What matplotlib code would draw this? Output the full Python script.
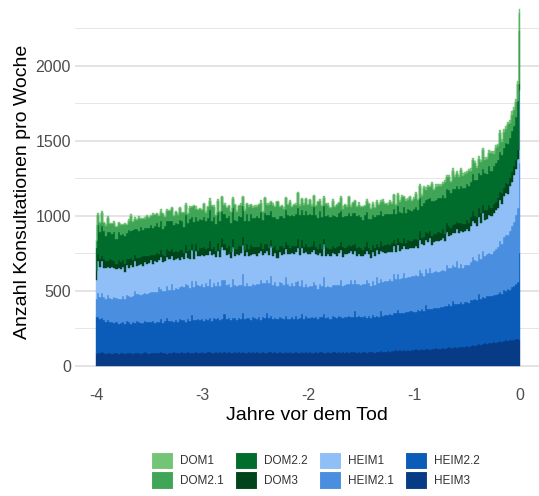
import numpy as np
import matplotlib.pyplot as plt
from matplotlib.patches import Patch

plt.rcParams['font.family'] = ['Liberation Sans', 'DejaVu Sans']

# weekly values, 13 weeks (one quarter) per row, 4 years before death + last week
HEIM3 = [80, 88, 84, 90, 86, 82, 87, 85, 80, 83, 86, 81, 84,
         88, 82, 85, 87, 83, 80, 86, 84, 89, 82, 86, 90, 84,
         81, 87, 85, 88, 83, 86, 91, 84, 87, 82, 88, 85, 90,
         86, 83, 88, 92, 85, 87, 90, 84, 89, 86, 93, 88, 85,
         91, 87, 84, 90, 95, 86, 89, 92, 87, 90, 85, 93, 88,
         91, 86, 89, 94, 87, 90, 85, 92, 88, 86, 91, 89, 93,
         87, 90, 88, 85, 92, 89, 86, 94, 90, 87, 91, 88, 93,
         86, 89, 92, 87, 90, 88, 85, 91, 89, 86, 90, 88, 93,
         87, 91, 89, 86, 92, 88, 90, 94, 87, 89, 91, 86, 93,
         90, 88, 92, 89, 94, 88, 91, 87, 93, 90, 95, 89, 92,
         88, 96, 91, 89, 94, 90, 93, 88, 95, 92, 97, 93, 96,
         99, 95, 101, 97, 103, 99, 105, 100, 104, 98, 106, 102, 108,
         104, 110, 106, 108, 113, 107, 111, 115, 109, 114, 112, 117, 113,
         116, 120, 114, 119, 123, 118, 122, 126, 121, 125, 129, 124, 128,
         131, 127, 134, 138, 133, 140, 145, 141, 148, 152, 147, 155, 151,
         158, 154, 162, 166, 160, 168, 172, 165, 170, 174, 176, 178, 180,
         175]

HEIM22 = [245, 238, 226, 232, 218, 214, 221, 206, 212, 203, 209, 200, 205,
          208, 199, 212, 204, 196, 210, 203, 215, 201, 207, 198, 212, 206,
          210, 204, 216, 200, 213, 207, 221, 205, 211, 240, 209, 214, 206,
          218, 211, 224, 213, 220, 208, 226, 216, 250, 219, 212, 227, 221,
          222, 215, 230, 218, 225, 212, 228, 221, 234, 217, 226, 255, 223,
          229, 220, 233, 224, 218, 231, 226, 260, 222, 235, 227, 219, 232,
          230, 224, 237, 221, 233, 228, 265, 226, 240, 225, 231, 222, 236,
          231, 226, 238, 229, 223, 235, 230, 242, 227, 234, 258, 228, 237,
          233, 227, 240, 231, 236, 225, 239, 232, 262, 230, 238, 229, 242,
          236, 230, 243, 234, 228, 240, 235, 247, 232, 239, 270, 237, 244,
          235, 229, 242, 233, 238, 230, 245, 236, 241, 237, 268, 240, 246,
          243, 250, 241, 253, 247, 276, 250, 256, 248, 259, 252, 262, 255,
          258, 251, 264, 259, 268, 261, 292, 266, 272, 265, 277, 270, 275,
          278, 271, 284, 279, 290, 282, 312, 287, 293, 286, 299, 291, 296,
          298, 291, 305, 299, 310, 302, 332, 305, 311, 304, 316, 308, 313,
          314, 320, 316, 328, 322, 335, 330, 345, 338, 350, 355, 365, 380,
          575]

HEIM21 = [120, 160, 152, 165, 158, 150, 168, 162, 155, 171, 160, 166, 158,
          170, 165, 178, 172, 183, 176, 210, 180, 188, 183, 195, 187, 192,
          195, 201, 192, 205, 198, 230, 204, 210, 202, 214, 207, 245, 211,
          216, 222, 211, 225, 218, 252, 223, 219, 229, 221, 260, 226, 230,
          230, 224, 236, 227, 262, 229, 233, 222, 237, 228, 265, 225, 231,
          226, 219, 258, 224, 231, 218, 228, 262, 221, 229, 217, 226, 222,
          222, 230, 219, 265, 227, 234, 223, 231, 270, 228, 236, 226, 232,
          233, 226, 262, 228, 221, 232, 218, 225, 250, 214, 222, 210, 216,
          208, 216, 204, 240, 211, 203, 214, 207, 245, 210, 202, 213, 206,
          212, 219, 207, 248, 214, 209, 220, 211, 250, 216, 208, 219, 213,
          215, 222, 211, 252, 219, 214, 225, 218, 258, 221, 216, 228, 224,
          227, 233, 222, 262, 229, 236, 225, 232, 268, 230, 238, 228, 235,
          235, 242, 231, 270, 238, 233, 245, 236, 275, 240, 234, 246, 239,
          240, 248, 236, 278, 243, 251, 239, 246, 285, 244, 252, 241, 248,
          247, 256, 251, 290, 262, 258, 270, 266, 310, 275, 280, 288, 285,
          293, 305, 318, 340, 332, 355, 372, 365, 390, 410, 430, 460, 490,
          600]

HEIM1 = [130, 215, 198, 210, 190, 205, 185, 200, 212, 193, 188, 204, 196,
         195, 180, 200, 188, 210, 192, 203, 185, 198, 207, 190, 201, 197,
         200, 212, 189, 205, 196, 183, 208, 194, 200, 187, 211, 192, 198,
         193, 205, 186, 199, 190, 208, 181, 196, 203, 188, 200, 192, 197,
         195, 208, 190, 203, 186, 211, 198, 192, 206, 189, 214, 200, 196,
         203, 196, 212, 190, 207, 199, 215, 193, 204, 210, 197, 208, 201,
         205, 192, 210, 198, 186, 204, 195, 188, 202, 191, 198, 185, 196,
         192, 205, 187, 200, 210, 195, 214, 202, 220, 208, 216, 225, 212,
         220, 210, 228, 215, 205, 222, 212, 200, 218, 206, 214, 203, 211,
         208, 196, 214, 201, 192, 207, 198, 210, 190, 203, 196, 188, 200,
         195, 186, 202, 190, 198, 184, 196, 188, 180, 194, 185, 198, 189,
         192, 183, 197, 186, 178, 194, 185, 190, 181, 195, 184, 192, 188,
         188, 196, 185, 200, 192, 205, 194, 208, 199, 190, 206, 198, 203,
         205, 214, 200, 218, 209, 222, 212, 225, 216, 230, 221, 234, 228,
         235, 228, 242, 236, 245, 231, 248, 240, 252, 244, 238, 256, 250,
         255, 262, 258, 270, 265, 275, 280, 272, 300, 290, 310, 310, 330,
         490]

DOM3 = [60, 45, 55, 38, 62, 48, 40, 57, 44, 52, 36, 58, 47,
        42, 55, 38, 60, 46, 51, 35, 58, 43, 49, 62, 40, 53,
        47, 38, 56, 44, 61, 39, 52, 45, 35, 58, 48, 42, 55,
        50, 41, 63, 46, 37, 54, 44, 59, 40, 52, 47, 36, 56,
        45, 58, 39, 51, 64, 42, 48, 37, 55, 46, 60, 41, 50,
        53, 40, 57, 46, 36, 61, 44, 50, 39, 56, 48, 63, 42,
        47, 55, 38, 52, 44, 60, 41, 49, 36, 58, 45, 53, 40,
        56, 43, 50, 62, 39, 48, 54, 37, 59, 45, 51, 42, 57,
        44, 52, 38, 60, 47, 41, 55, 49, 36, 58, 43, 50, 46,
        39, 57, 45, 51, 63, 40, 48, 54, 37, 59, 44, 52, 47,
        55, 42, 49, 61, 38, 53, 46, 58, 40, 51, 64, 43, 48,
        52, 45, 59, 41, 56, 48, 62, 44, 53, 39, 57, 50, 46,
        58, 47, 54, 65, 43, 56, 50, 62, 45, 59, 52, 48, 61,
        50, 63, 46, 57, 68, 49, 55, 61, 44, 66, 53, 59, 48,
        62, 51, 58, 70, 47, 60, 55, 66, 50, 63, 57, 69, 54,
        60, 52, 65, 58, 71, 55, 63, 68, 57, 66, 60, 62, 60,
        40]

DOM22 = [150, 192, 178, 200, 185, 170, 195, 182, 176, 190, 168, 186, 180,
         175, 188, 170, 193, 181, 196, 174, 189, 183, 200, 178, 192, 185,
         187, 199, 180, 194, 205, 183, 192, 177, 198, 186, 203, 190, 181,
         193, 184, 201, 188, 178, 197, 190, 206, 185, 194, 180, 199, 192,
         190, 202, 185, 196, 208, 188, 199, 183, 204, 193, 186, 201, 195,
         197, 189, 206, 192, 184, 203, 195, 210, 190, 199, 187, 205, 196,
         198, 210, 192, 203, 188, 207, 199, 215, 194, 202, 190, 208, 200,
         203, 195, 212, 200, 218, 205, 197, 214, 207, 220, 202, 210, 216,
         212, 220, 205, 225, 214, 208, 222, 210, 217, 204, 219, 211, 206,
         214, 203, 218, 208, 200, 215, 206, 212, 198, 210, 204, 216, 207,
         205, 198, 213, 202, 195, 209, 200, 207, 194, 211, 203, 197, 208,
         201, 210, 196, 206, 199, 213, 202, 195, 208, 200, 212, 204, 198,
         205, 213, 202, 218, 210, 222, 214, 226, 218, 230, 221, 228, 232,
         234, 226, 240, 231, 237, 228, 242, 233, 239, 230, 245, 236, 240,
         238, 246, 235, 250, 241, 248, 239, 254, 245, 251, 243, 256, 249,
         252, 260, 255, 266, 258, 264, 270, 262, 268, 275, 272, 282, 324,
         353]

DOM21 = [48, 70, 58, 83, 56, 65, 90, 53, 68, 62, 78, 55, 67,
         59, 76, 54, 64, 98, 57, 71, 63, 86, 52, 68, 60, 80,
         63, 56, 88, 67, 54, 73, 61, 100, 58, 69, 65, 82, 56,
         70, 62, 78, 55, 93, 66, 59, 75, 64, 106, 57, 71, 63,
         67, 84, 58, 72, 61, 96, 65, 56, 77, 63, 90, 59, 69,
         64, 76, 57, 103, 66, 62, 80, 58, 71, 65, 94, 61, 68,
         73, 60, 86, 65, 57, 98, 63, 70, 59, 82, 66, 108, 62,
         68, 61, 79, 65, 92, 58, 73, 64, 101, 60, 75, 67, 84,
         66, 88, 62, 74, 59, 104, 65, 71, 57, 83, 68, 63, 96,
         60, 77, 65, 91, 58, 72, 64, 106, 61, 69, 80, 56, 73,
         65, 84, 59, 70, 97, 63, 74, 58, 88, 66, 61, 102, 68,
         62, 79, 66, 93, 60, 73, 65, 108, 63, 76, 59, 86, 70,
         68, 90, 64, 78, 71, 103, 67, 83, 74, 113, 70, 88, 76,
         80, 73, 106, 78, 90, 75, 116, 82, 88, 77, 110, 84, 93,
         78, 100, 76, 88, 113, 80, 93, 86, 123, 82, 98, 90, 116,
         84, 103, 90, 128, 88, 106, 94, 133, 98, 110, 103, 103, 113,
         120]

DOM1 = [5, 10, 7, 12, 6, 9, 14, 6, 8, 11, 5, 9, 8,
        7, 11, 6, 9, 15, 7, 10, 6, 12, 8, 6, 11, 8,
        9, 6, 13, 8, 10, 5, 16, 7, 9, 12, 6, 9, 11,
        7, 12, 6, 10, 8, 15, 7, 11, 6, 9, 14, 8, 10,
        9, 6, 12, 8, 16, 7, 10, 6, 13, 8, 9, 14, 7,
        10, 8, 13, 6, 11, 9, 16, 7, 12, 8, 10, 6, 13,
        8, 11, 7, 15, 9, 7, 12, 10, 6, 14, 8, 11, 9,
        7, 13, 9, 10, 15, 8, 9, 12, 6, 11, 9, 14, 8,
        10, 8, 14, 9, 12, 7, 16, 9, 11, 8, 13, 7, 10,
        9, 12, 7, 11, 15, 8, 10, 6, 13, 9, 11, 8, 14,
        8, 11, 9, 16, 7, 10, 12, 7, 12, 9, 14, 10, 8,
        11, 8, 13, 9, 7, 14, 10, 12, 8, 16, 10, 11, 9,
        10, 13, 9, 15, 11, 10, 17, 12, 10, 14, 9, 16, 11,
        12, 10, 16, 11, 13, 11, 19, 13, 12, 15, 11, 18, 13,
        13, 12, 18, 13, 16, 14, 20, 15, 13, 19, 15, 17, 16,
        15, 18, 16, 20, 17, 19, 21, 18, 20, 22, 20, 19, 25,
        30]

labels = ['DOM1', 'DOM2.1', 'DOM2.2', 'DOM3', 'HEIM1', 'HEIM2.1', 'HEIM2.2', 'HEIM3']
colors = ['#74c476', '#41a557', '#006d2c', '#00441b', '#8fbff6', '#4a8ee0', '#0a5cb8', '#083b85']
series = [DOM1, DOM21, DOM22, DOM3, HEIM1, HEIM21, HEIM22, HEIM3]

weeks = np.arange(len(HEIM3))
x = (weeks - weeks[-1]) / 52.0

fig = plt.figure(figsize=(5.39, 4.96), dpi=100)
ax = fig.add_axes([0.139, 0.226, 0.861, 0.774])

# stack from the bottom (HEIM3) up to the top (DOM1)
bottom = np.zeros(len(x))
for vals, col in zip(series[::-1], colors[::-1]):
    top = bottom + np.array(vals)
    ax.fill_between(x, bottom, top, step='mid', facecolor=col, edgecolor=col,
                    lw=0.3, zorder=2)
    bottom = top

ax.set_xlim(-4.2, 0.179)
ax.set_ylim(-120, 2440)
ax.set_xticks([-4, -3, -2, -1, 0])
ax.set_xticklabels(['-4', '-3', '-2', '-1', '0'])
ax.set_yticks([0, 500, 1000, 1500, 2000])
ax.set_yticks([250, 750, 1250, 1750, 2250], minor=True)
ax.grid(axis='y', which='major', color='#dcdcdc', lw=1.1, zorder=0)
ax.grid(axis='y', which='minor', color='#e6e6e6', lw=0.7, zorder=0)
ax.grid(axis='x', visible=False)
ax.tick_params(axis='both', which='both', length=0, labelsize=11.5, colors='#4d4d4d')
ax.tick_params(axis='y', pad=3)
ax.tick_params(axis='x', pad=3)
for s in ax.spines.values():
    s.set_visible(False)

ax.set_xlabel('Jahre vor dem Tod', fontsize=14, labelpad=3)
ax.set_ylabel('Anzahl Konsultationen pro Woche', fontsize=14, labelpad=3)

handles = [Patch(facecolor=c, edgecolor='white', lw=0.8) for c in colors]
fig.legend(handles, labels, loc='center', bbox_to_anchor=(0.585, 0.052), ncol=4,
           frameon=False, fontsize=8.5, handlelength=1.9, handleheight=1.9,
           labelspacing=0.15, columnspacing=0.9, handletextpad=0.6,
           labelcolor='#333333')

fig.savefig('out.png', dpi=100)
